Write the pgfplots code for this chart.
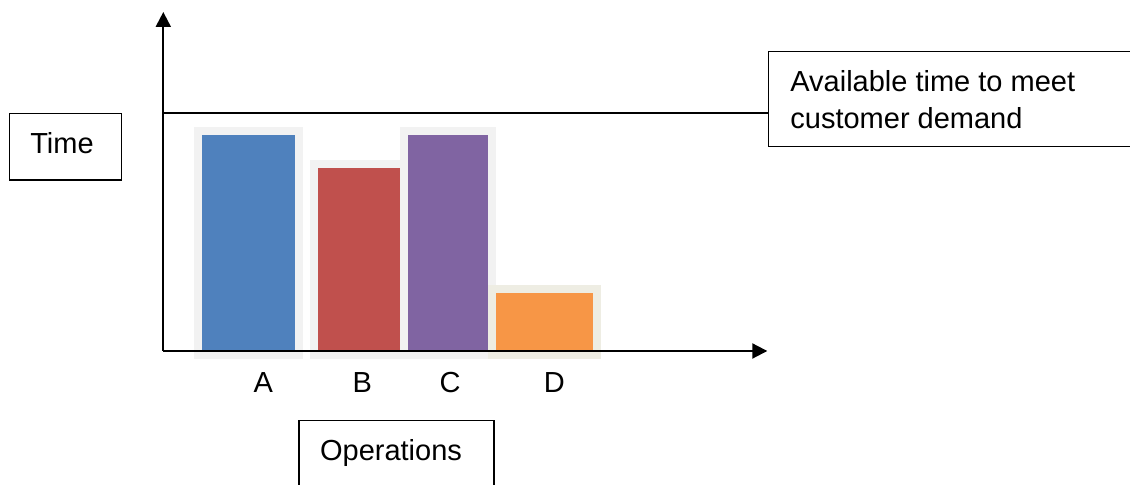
\documentclass[border=0pt]{standalone}
\usepackage{pgfplots}
\pgfplotsset{compat=1.18}
\usepackage{fontspec}
\setmainfont{Liberation Sans}
\usetikzlibrary{arrows.meta}
\definecolor{cA}{HTML}{4F81BD}
\definecolor{cB}{HTML}{C0504D}
\definecolor{cC}{HTML}{8064A2}
\definecolor{cD}{HTML}{F79646}
\definecolor{glow}{HTML}{F2F2F2}
\definecolor{glowD}{HTML}{EEEDE3}
\newcommand{\chartfont}{\fontsize{14.5}{18.3}\selectfont}
\begin{document}
\begin{tikzpicture}[font=\chartfont]
\path[use as bounding box] (0pt,0pt) rectangle (565pt,242.5pt);
\begin{axis}[
  at={(81.65pt,67pt)}, anchor=south west,
  scale only axis, width=302pt, height=169.5pt,
  xmin=0, xmax=604, ymin=0, ymax=142.6,
  axis lines=left,
  axis line style={line width=1pt, -{Triangle[length=7.5pt,width=7.5pt]}},
  axis on top,
  clip=false,
  ytick=\empty,
  xtick={100,199,286.7,391},
  xticklabels={A,{\raisebox{-1.6pt}{B}},C,D},
  major tick length=0pt,
  xticklabel style={anchor=north, inner sep=0pt, yshift=-10.35pt, font=\chartfont},
]
\addplot[ybar, bar shift=0pt, bar width=93.6, fill=cA, draw=none,
  preaction={draw=glow, line width=8pt, line join=miter}] coordinates {(85.2,90.9)};
\addplot[ybar, bar shift=0pt, bar width=81.7, fill=cB, draw=none,
  preaction={draw=glow, line width=8pt, line join=miter}] coordinates {(195.9,76.9)};
\addplot[ybar, bar shift=0pt, bar width=80, fill=cC, draw=none,
  preaction={draw=glow, line width=8pt, line join=miter}] coordinates {(285,90.9)};
\addplot[ybar, bar shift=0pt, bar width=97.6, fill=cD, draw=none,
  preaction={draw=glowD, line width=8pt, line join=miter}] coordinates {(381.2,24.5)};
\draw[line width=0.8pt] (axis cs:0,100) -- (axis cs:605,100);
\end{axis}
\begin{scope}[x=0.5pt,y=0.5pt]
% Time box
\draw[line width=0.7pt] (9.3,305) rectangle (121.7,371.7);
\node[anchor=base, inner sep=0pt] at (62,331) {Time};
% Available box
\draw[line width=0.7pt] (768.3,338.3) rectangle (1145,433.3);
\node[anchor=base west, inner sep=0pt] at (790,393.3) {Available time to meet};
\node[anchor=base west, inner sep=0pt] at (790,356.7) {customer demand};
% Operations box
\draw[line width=0.7pt] (299,-10) rectangle (494,64.3);
\node[anchor=base, inner sep=0pt] at (391,24) {Operations};
\end{scope}
\end{tikzpicture}
\end{document}
